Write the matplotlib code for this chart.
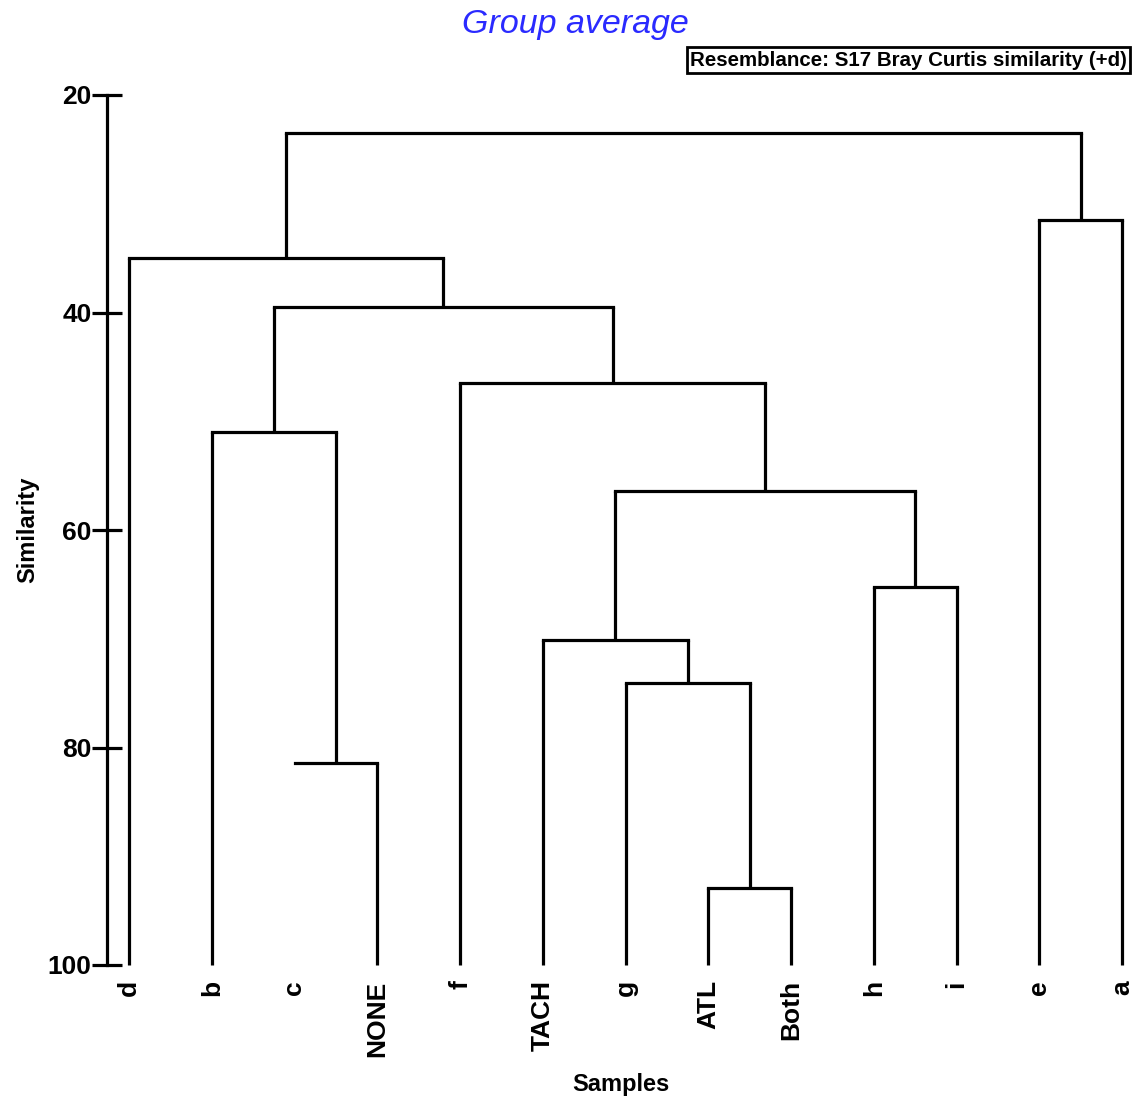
import matplotlib
matplotlib.use("Agg")
import matplotlib.pyplot as plt

plt.rcParams['font.family'] = ['Liberation Sans', 'DejaVu Sans']

# ---- data ----
leaf_labels = ['d', 'b', 'c', 'NONE', 'f', 'TACH', 'g', 'ATL', 'Both', 'h', 'i', 'e', 'a']
# merges: (left member, right member, similarity); members are leaf labels or earlier merge names m0..mN
merge_left = ['ATL', 'g', 'TACH', 'h', 'm2', 'f', 'c', 'b', 'm7', 'd', 'e', 'm9']
merge_right = ['Both', 'm0', 'm1', 'i', 'm3', 'm4', 'NONE', 'm6', 'm5', 'm8', 'a', 'm10']
merge_height = [92.9, 74.1, 70.1, 65.2, 56.4, 46.5, 81.4, 51.0, 39.5, 35.0, 31.5, 23.5]
hidden_stems = ['c']   # leaf whose stem is not drawn in the original
leaf_base = 100
y_ticks = [20, 40, 60, 80, 100]

W, H = 1146, 1099
fig = plt.figure(figsize=(W / 100, H / 100), dpi=100)
x0_px, x1_px = 107, 1135
y_top_px, y_bot_px = 95, 965
ax = fig.add_axes([x0_px / W, 1 - y_bot_px / H, (x1_px - x0_px) / W, (y_bot_px - y_top_px) / H])

step_px = (1122 - 129) / 12.0
xmin = -(129 - x0_px) / step_px
xmax = 12 + (x1_px - 1122) / step_px
ax.set_xlim(xmin, xmax)
ax.set_ylim(100, 20)

lw = 2.3
pos = {lab: i for i, lab in enumerate(leaf_labels)}
hgt = {lab: leaf_base for lab in leaf_labels}
for lab in hidden_stems:
    hgt[lab] = None

for k, (a, b, h) in enumerate(zip(merge_left, merge_right, merge_height)):
    xa, xb = pos[a], pos[b]
    for m, xm in ((a, xa), (b, xb)):
        base = hgt[m]
        if base is not None:
            ax.plot([xm, xm], [base, h], color='black', lw=lw, solid_capstyle='butt', clip_on=False)
    ax.plot([xa, xb], [h, h], color='black', lw=lw, solid_capstyle='projecting', clip_on=False)
    name = 'm%d' % k
    pos[name] = (xa + xb) / 2.0
    hgt[name] = h

# axes styling
for s in ['top', 'right', 'bottom']:
    ax.spines[s].set_visible(False)
ax.spines['left'].set_linewidth(lw)
ax.set_yticks(y_ticks)
ax.set_yticklabels([str(t) for t in y_ticks], fontsize=19, fontweight='bold')
ax.tick_params(axis='y', direction='inout', length=22, width=lw, pad=0)
ax.set_xticks(range(len(leaf_labels)))
ax.set_xticklabels(leaf_labels, rotation=90, fontsize=19, fontweight='bold', va='top', ha='center')
ax.tick_params(axis='x', length=0, pad=11)

ax.set_ylabel('Similarity', fontsize=17, fontweight='bold', labelpad=6)
ax.set_xlabel('Samples', fontsize=17, fontweight='bold', labelpad=12)

fig.text(575 / W, 1 - 24 / H, 'Group average', color='#2a2aff', fontsize=24.5,
         fontstyle='italic', ha='center', va='center')
fig.text(1127 / W, 1 - 60 / H, 'Resemblance: S17 Bray Curtis similarity (+d)', fontsize=14.8,
         fontweight='bold', ha='right', va='center',
         bbox=dict(boxstyle='square,pad=0.15', facecolor='white', edgecolor='black', linewidth=2))

fig.savefig('out.png', dpi=100)
